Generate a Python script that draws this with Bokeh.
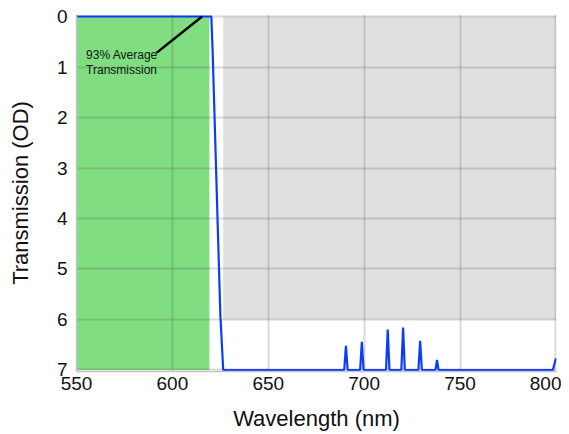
from bokeh.plotting import figure
from bokeh.models import Range1d, FixedTicker
from bokeh.core.properties import value
from bokeh.embed import file_html
from bokeh.resources import INLINE

# Transmission curve (wavelength nm, optical density)
wavelength = [548.5, 620.3, 621, 622, 623, 624, 625, 626.5,
              689.6, 690.5, 691.4, 697.9, 698.8, 699.7,
              711.4, 712.3, 713.2, 719.4, 720.3, 721.2,
              728.3, 729.2, 730.1, 737.2, 738.0, 738.8,
              798.4, 800]
od = [0.0, 0.0, 0.7, 2.0, 3.3, 4.6, 5.9, 7.0,
      7.0, 6.52, 7.0, 7.0, 6.44, 7.0,
      7.0, 6.2, 7.0, 7.0, 6.16, 7.0,
      7.0, 6.42, 7.0, 7.0, 6.8, 7.0,
      7.0, 6.77]

# Shaded bands
pass_band = dict(left=[550], right=[619.3], top=[0], bottom=[7])
block_band = dict(left=[626.5], right=[800], top=[0], bottom=[6])

# Annotation
note_text = ["93% Average\nTransmission"]
note_x = [555]
note_y = [0.63]
pointer_x0 = [591.7]
pointer_y0 = [0.72]
pointer_x1 = [615.5]
pointer_y1 = [0.0]

x_ticks = [550, 600, 650, 700, 750, 800]
y_ticks = [0, 1, 2, 3, 4, 5, 6, 7]

FONT = "Liberation Sans"

p = figure(width=561, height=434, output_backend="svg", toolbar_location=None,
           x_range=Range1d(550, 800.3), y_range=Range1d(7.03, -0.04),
           min_border_left=76, min_border_right=5, min_border_top=14,
           min_border_bottom=63)
p.outline_line_color = None

p.quad(left=block_band["left"], right=block_band["right"], top=block_band["top"],
       bottom=block_band["bottom"], fill_color="#e0e0e0", line_color=None, level="image")
p.quad(left=pass_band["left"], right=pass_band["right"], top=pass_band["top"],
       bottom=pass_band["bottom"], fill_color="#80de80", line_color=None, level="image")

p.line(wavelength, od, line_color="#0a3cff", line_width=2.2)

p.segment(x0=pointer_x0, y0=pointer_y0, x1=pointer_x1, y1=pointer_y1,
          line_color="black", line_width=2.5)
p.text(x=note_x, y=note_y, text=note_text, text_font=value(FONT),
       text_font_size="12px", text_baseline="top", text_align="left",
       text_line_height=1.05, text_color="#111111")

for g in (p.xgrid, p.ygrid):
    g.grid_line_color = "#505050"
    g.grid_line_alpha = 0.21
    g.grid_line_width = 2

p.xaxis.ticker = FixedTicker(ticks=x_ticks)
p.yaxis.ticker = FixedTicker(ticks=y_ticks)
p.xgrid.ticker = FixedTicker(ticks=x_ticks)
p.ygrid.ticker = FixedTicker(ticks=y_ticks)

for ax in (p.xaxis[0], p.yaxis[0]):
    ax.axis_line_color = "#c4c4c4"
    ax.axis_line_width = 1.5
    ax.major_tick_line_color = None
    ax.minor_tick_line_color = None
    ax.major_tick_out = 0
    ax.major_tick_in = 0
    ax.major_label_text_font = FONT
    ax.major_label_text_font_size = "19px"
    ax.major_label_text_color = "#111111"
    ax.axis_label_text_font = FONT
    ax.axis_label_text_font_size = "22px"
    ax.axis_label_text_font_style = "normal"
    ax.axis_label_text_color = "#111111"

p.xaxis.axis_label = "Wavelength (nm)"
p.yaxis.axis_label = "Transmission (OD)"
p.xaxis.major_label_standoff = 5
p.yaxis.major_label_standoff = 9
p.xaxis.axis_label_standoff = 13
p.yaxis.axis_label_standoff = 21

open("out.html", "w").write(file_html(p, INLINE))
